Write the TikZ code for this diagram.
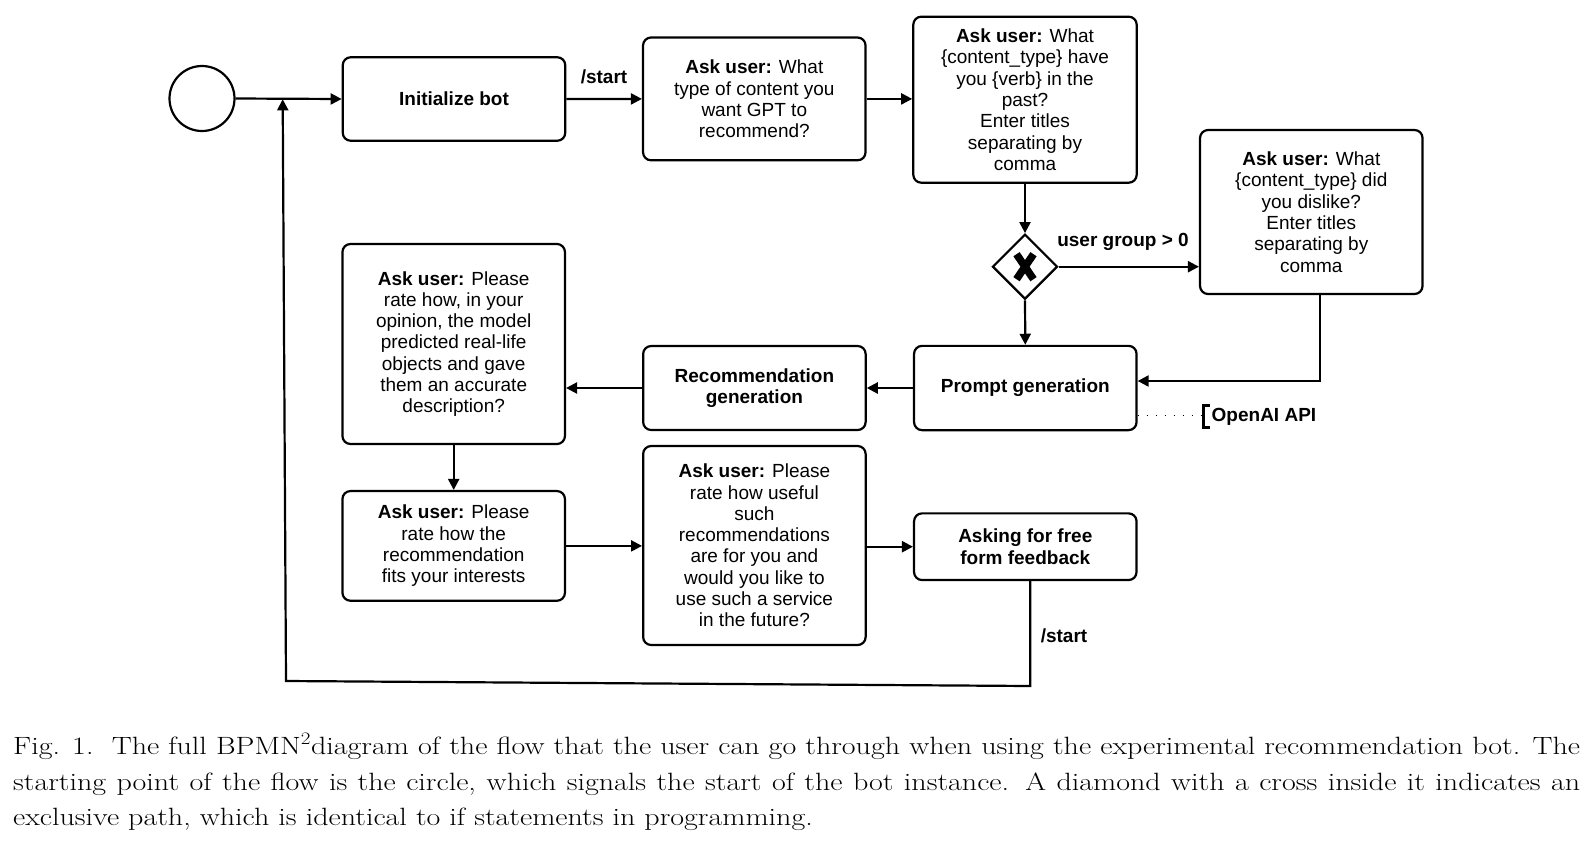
\documentclass[tikz,border=0pt]{standalone}
\usepackage{fontspec}
\usepackage{graphicx}
\newfontfamily\diagfont{Liberation Sans}
\usetikzlibrary{arrows.meta,calc,shapes.geometric}

\begin{document}
\begin{tikzpicture}[x=1pt,y=-1pt,
 box/.style={draw, line width=2.2pt, rounded corners=8pt, minimum width=222.5pt, align=center, inner sep=2pt, font=\diagfont\fontsize{19}{21.3}\selectfont},
 flow/.style={line width=2.2pt, -{Triangle[length=11pt,width=11pt]}},
 lbl/.style={font=\diagfont\bfseries\fontsize{19}{21.3}\selectfont, inner sep=0pt},
 captxt/.style={anchor=base west, inner sep=0pt, font=\fontsize{25}{36}\selectfont},
]
\useasboundingbox (0,0) rectangle (1591,844);

% nodes
\node[circle, draw, line width=2.2pt, minimum size=65pt, inner sep=0pt] (st) at (202,98.5) {};
\node[box, minimum height=83.5pt, font=\diagfont\bfseries\fontsize{19}{21.3}\selectfont] (init) at (454,99) {Initialize bot};
\node[box, minimum height=122.8pt] (q1) at (754.3,98.9) {\textbf{Ask user:} What\\type of content you\\want GPT to\\recommend?};
\node[box, minimum height=166pt, minimum width=223.4pt] (q2) at (1025,99.7) {\textbf{Ask user:} What\\\{content\_type\} have\\you \{verb\} in the\\past?\\Enter titles\\separating by\\comma};
\node[diamond, draw, line width=2.2pt, minimum width=65pt, minimum height=65pt, inner sep=0pt] (gw) at (1025,266.7) {};
\node[box, minimum height=164pt] (q3) at (1311.3,212) {\textbf{Ask user:} What\\\{content\_type\} did\\you dislike?\\Enter titles\\separating by\\comma};
\node[box, minimum height=84.3pt, font=\diagfont\bfseries\fontsize{19}{21.3}\selectfont] (prompt) at (1025.3,388) {Prompt generation};
\node[box, minimum height=84pt, font=\diagfont\bfseries\fontsize{19}{21.3}\selectfont] (recgen) at (754.4,388) {Recommendation\\generation};
\node[box, minimum height=200pt] (rate1) at (453.7,344) {\textbf{Ask user:} Please\\rate how, in your\\opinion, the model\\predicted real-life\\objects and gave\\them an accurate\\description?};
\node[box, minimum height=109.7pt] (rate2) at (453.7,545.9) {\textbf{Ask user:} Please\\rate how the\\recommendation\\fits your interests};
\node[box, minimum height=199pt] (rate3) at (754.4,545.5) {\textbf{Ask user:} Please\\rate how useful\\such\\recommendations\\are for you and\\would you like to\\use such a service\\in the future?};
\node[box, minimum height=66.7pt, font=\diagfont\bfseries\fontsize{19}{21.3}\selectfont] (fb) at (1025.3,546.7) {Asking for free\\form feedback};

% X in gateway
\draw[line width=7.5pt] ($(gw)+(-8.5,-12.5)$) -- ($(gw)+(8.5,12.5)$);
\draw[line width=7.5pt] ($(gw)+(8.5,-12.5)$) -- ($(gw)+(-8.5,12.5)$);

% labels
\node[lbl] (l1) at (604,77) {/start};
\node[lbl] (l2) at (1123,242) {user group > 0};
\node[lbl] (l3) at (1064,636) {/start};
\node[lbl, anchor=west] (api) at (1211.5,416.5) {OpenAI API};

% connectors
\draw[flow] (st.east) -- (init.west);
\draw[flow] (init.east) -- (q1.west);
\draw[flow] (q1.east) -- (q1.east -| q2.west);
\draw[flow] (q2.south) -- (gw.north);
\draw[flow] (gw.east) -- (gw.east -| q3.west);
\draw[flow] (gw.south) -- (prompt.north);
\coordinate (q3out) at ([xshift=9pt]q3.south);
\draw[flow] (q3out) |- ([yshift=7pt]prompt.east);
\draw[flow] (prompt.west) -- (recgen.east);
\draw[flow] (recgen.west) -- (recgen.west -| rate1.east);
\draw[flow] (rate1.south) -- (rate2.north);
\draw[flow] (rate2.east) -- (rate2.east -| rate3.west);
\draw[flow] (fb.west -| rate3.east) -- (fb.west);

% loop back
\coordinate (fbout) at ([xshift=5pt]fb.south);
\coordinate (lb) at (1030.3,686);
\coordinate (la) at (286,681);
\coordinate (lt) at (282.7,99.3);
\draw[flow] (fbout) -- (lb) -- (la) -- (lt);

% annotation
\coordinate (ann) at (1203,415.7);
\draw[line width=1pt, dash pattern=on 1pt off 8pt] ([yshift=-27.7pt]prompt.east) -- (ann);
\draw[line width=3pt] (1209.5,405) -- (1203,405) -- (1203,427) -- (1209.5,427);

% caption
\node[captxt] (c1) at (13,754) {\scalebox{1.2}[1]{\makebox[1305.8pt][s]{Fig. 1.\ \ The full BPMN\textsuperscript{2}diagram of the flow that the user can go through when using the experimental recommendation bot. The}}};
\node[captxt] (c2) at (13,790) {\scalebox{1.2}[1]{\makebox[1305.8pt][s]{starting point of the flow is the circle, which signals the start of the bot instance. A diamond with a cross inside it indicates an}}};
\node[captxt] (c3) at (13,825.5) {\scalebox{1.2}[1]{exclusive path, which is identical to if statements in programming.}};
\end{tikzpicture}
\end{document}
